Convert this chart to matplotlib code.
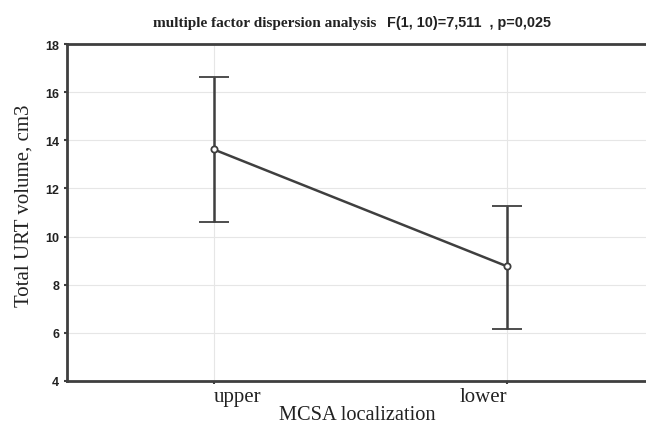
import matplotlib
matplotlib.use("Agg")
import matplotlib.pyplot as plt

# data
groups = ["upper", "lower"]
means = [13.62, 8.76]
upper_ci = [16.62, 11.26]
lower_ci = [10.60, 6.17]
yticks = [4, 6, 8, 10, 12, 14, 16, 18]

dark = "#3f3f3f"

fig = plt.figure(figsize=(6.46, 4.27), dpi=100)
ax = fig.add_axes([67 / 646, 1 - 382 / 427, 587 / 646, 337 / 427])

x = list(range(len(groups)))
err = [[m - lo for m, lo in zip(means, lower_ci)],
       [hi - m for m, hi in zip(means, upper_ci)]]
ax.errorbar(x, means, yerr=err, color=dark, lw=1.8, capsize=11, capthick=1.8,
            elinewidth=1.8, marker="o", ms=4.5, mfc="white", mec=dark, mew=1.3,
            zorder=3)

ax.set_xlim(-0.5, 1.5)
ax.set_ylim(4, 18)
ax.set_yticks(yticks)
ax.set_xticks(x)
ax.grid(True, color="#e6e6e6", lw=0.8)
ax.set_axisbelow(True)

for s in ["left", "top", "bottom"]:
    ax.spines[s].set_color(dark)
    ax.spines[s].set_linewidth(2)
ax.spines["right"].set_visible(False)

ax.tick_params(axis="both", length=2, width=1.5, color=dark)
ax.set_yticklabels([str(t) for t in yticks], fontfamily="Liberation Sans",
                   fontweight="bold", fontsize=9, color="#222222")
ax.set_xticklabels(groups, fontfamily="Liberation Serif", fontsize=15,
                   color="#222222")
labs = ax.get_xticklabels()
labs[0].set_ha("left")
labs[1].set_ha("right")
ax.tick_params(axis="x", pad=2)

fig.text(24 / 646, 1 - 206 / 427, "Total URT volume, cm3", rotation=90,
         ha="center", va="center", fontfamily="Liberation Serif",
         fontsize=15, color="#222222")
fig.text(357 / 646, 1 - 416 / 427, "MCSA localization", ha="center", va="center",
         fontfamily="Liberation Serif", fontsize=14.7, color="#222222")

fig.text(153 / 646, 1 - 23 / 427, "multiple factor dispersion analysis", ha="left",
         va="center", fontfamily="Liberation Serif", fontweight="bold",
         fontsize=11, color="#222222")
fig.text(387 / 646, 1 - 23 / 427, "F(1, 10)=7,511  , p=0,025", ha="left",
         va="center", fontfamily="Liberation Sans", fontweight="bold",
         fontsize=10.4, color="#222222")

fig.savefig("out.png", dpi=100)
